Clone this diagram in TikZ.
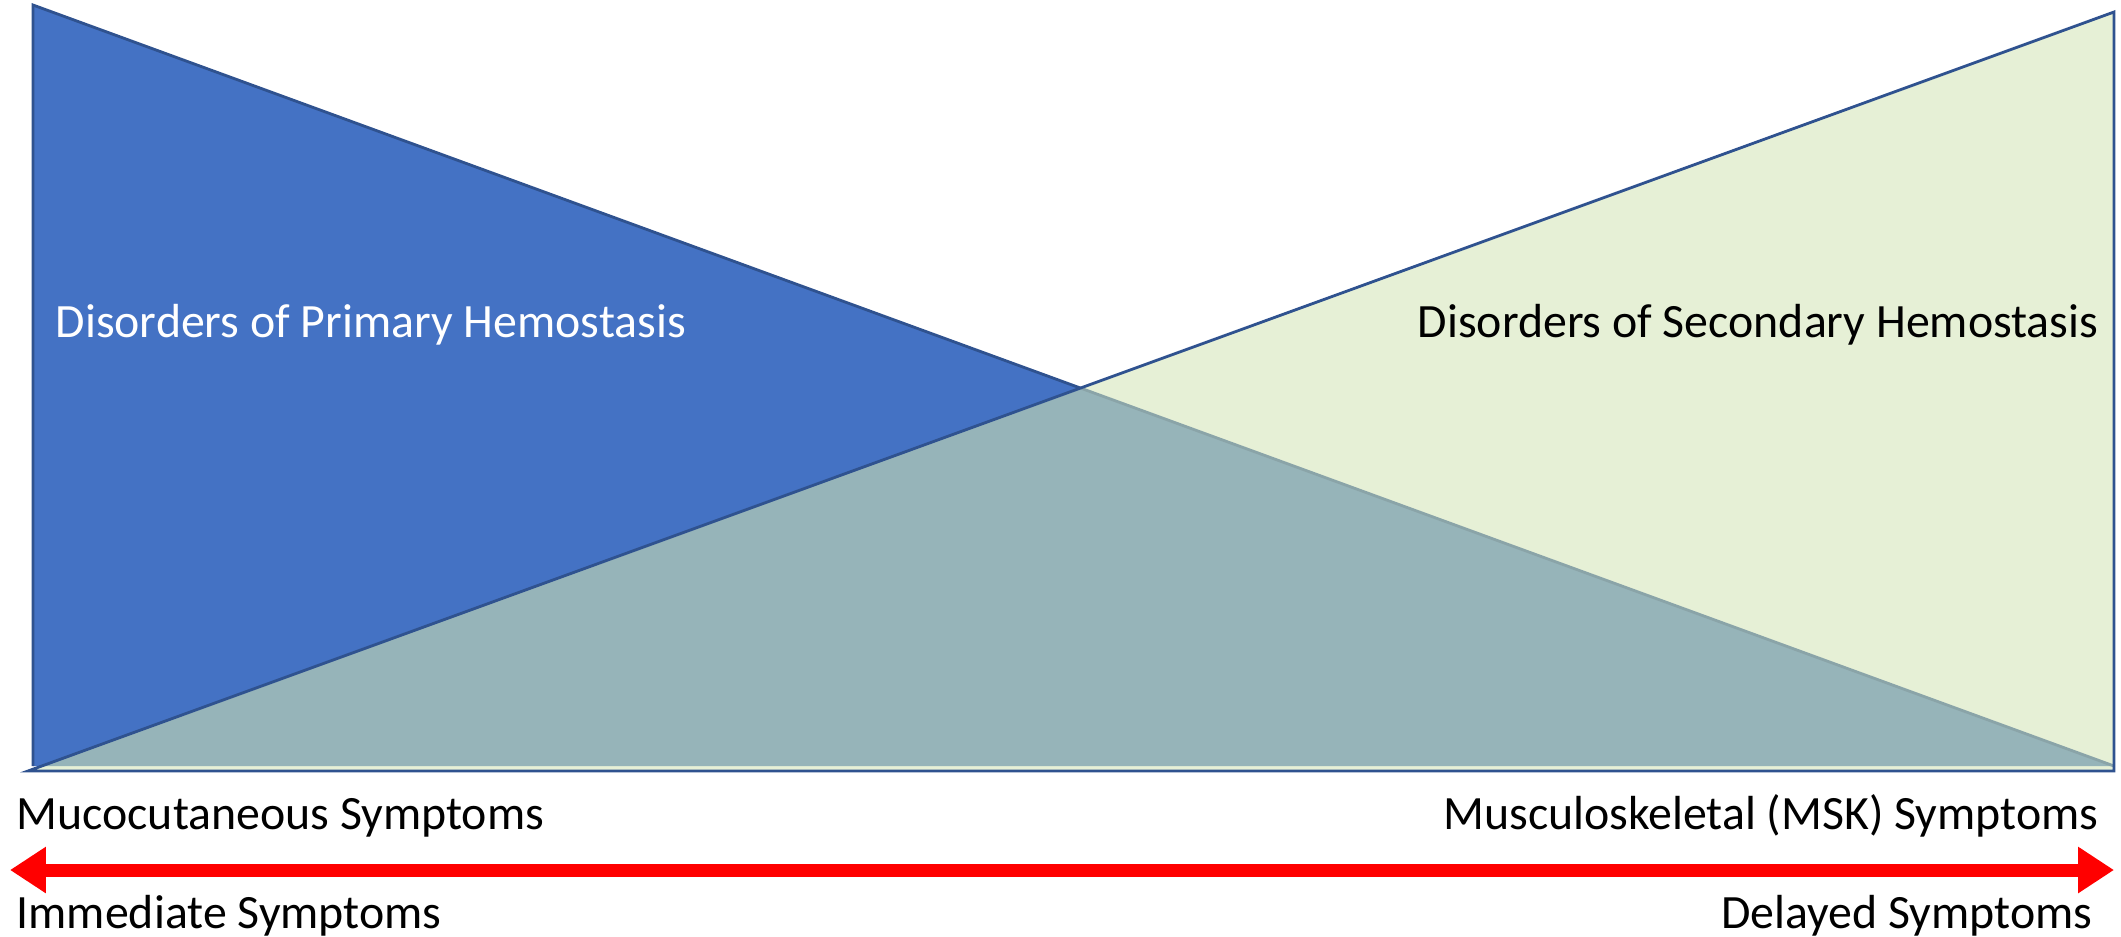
\documentclass[tikz,border=0pt]{standalone}
\usepackage{fontspec}
\setmainfont{Carlito}
\usetikzlibrary{arrows.meta}
\definecolor{bluefill}{HTML}{4472C4}
\definecolor{blueedge}{HTML}{2F528F}
\definecolor{greenfill}{HTML}{E6F0D6}
\definecolor{overlapfill}{HTML}{96B4B9}
\definecolor{overlapedge}{HTML}{8AA4A8}
\definecolor{arrowred}{HTML}{FF0000}
\tikzset{
  lbl/.style={inner sep=0pt, font=\fontsize{13.6pt}{16pt}\selectfont},
  edgeline/.style={draw=blueedge, line width=0.8pt, line join=miter},
}
\begin{document}
\begin{tikzpicture}[x=0.01cm,y=-0.01cm]
\useasboundingbox (0,0) rectangle (2121,936);
% corners
\coordinate (BT) at (33,5);
\coordinate (BL) at (33,766);
\coordinate (BR) at (2114,766);
\coordinate (GT) at (2114,12);
\coordinate (GR) at (2114,771);
\coordinate (GL) at (28,771);
% blue triangle
\fill[bluefill] (BT) -- (BL) -- (BR) -- cycle;
\draw[edgeline] (BR) -- (BT) -- (BL);
% green triangle
\fill[greenfill] (GL) -- (GT) -- (GR) -- cycle;
\begin{scope}
  \clip (BT) -- (BL) -- (BR) -- cycle;
  \fill[overlapfill] (GL) -- (GT) -- (GR) -- cycle;
\end{scope}
\begin{scope}
  \clip (GL) -- (GT) -- (GR) -- cycle;
  \draw[overlapedge, line width=0.8pt] (BT) -- (BR);
\end{scope}
\draw[edgeline] (GL) -- (GT) -- (GR) -- cycle;
% labels
\node[lbl, text=white, anchor=base west] (prim) at (55,337) {Disorders of Primary Hemostasis};
\node[lbl, anchor=base east] (sec) at (2099,337) {Disorders of Secondary Hemostasis};
\node[lbl, anchor=base west] (muco) at (16,829) {Mucocutaneous Symptoms};
\node[lbl, anchor=base east] (msk) at (2099,829) {Musculoskeletal (MSK) Symptoms};
\node[lbl, anchor=base west] (imm) at (16,928) {Immediate Symptoms};
\node[lbl, anchor=base east] (del) at (2093,928) {Delayed Symptoms};
% arrow
\coordinate (AL) at (10,870);
\coordinate (AR) at (2114,870);
\draw[arrowred, line width=3.7pt,
  {Triangle[length=10.2pt,width=12.5pt]}-{Triangle[length=10.2pt,width=12.5pt]}] (AL) -- (AR);
\end{tikzpicture}
\end{document}
